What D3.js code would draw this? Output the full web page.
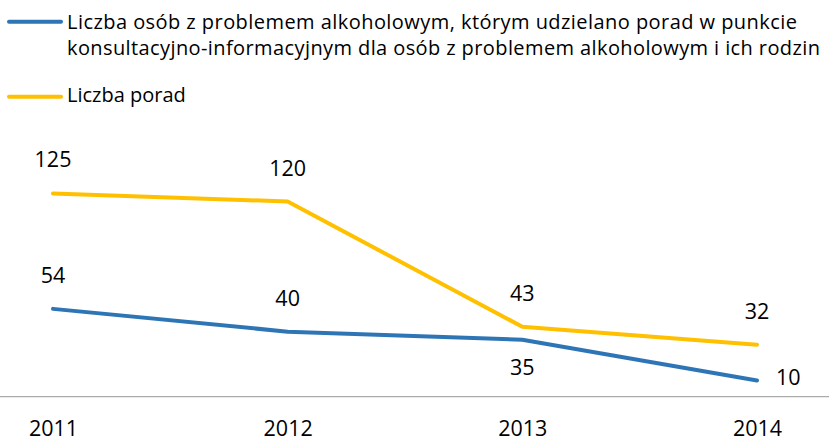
<!DOCTYPE html>
<html>
<head>
<meta charset="utf-8">
<script src="https://cdn.jsdelivr.net/npm/d3@7"></script>
<style>
  html, body { margin: 0; padding: 0; background: #fff; }
  svg { display: block; font-family: "Open Sans", "Noto Sans", sans-serif; }
</style>
</head>
<body>
<svg id="chart" width="829" height="443"></svg>
<script>
// Years on the horizontal axis
const years = ["2011", "2012", "2013", "2014"];
// Persons with an alcohol problem who received advice
const persons = [54, 40, 35, 10];
// Number of advice sessions given
const advice = [125, 120, 43, 32];
// Legend texts
const legendPersons = [
  "Liczba osób z problemem alkoholowym, którym udzielano porad w punkcie",
  "konsultacyjno-informacyjnym dla osób z problemem alkoholowym i ich rodzin"
];
const legendAdvice = "Liczba porad";

const W = 829, H = 443;
const svg = d3.select("#chart");
const FONT = "'Open Sans', 'Noto Sans', sans-serif";

const x = d3.scalePoint().domain(years).range([53, 757]);
const y = d3.scaleLinear().domain([0, 125]).range([396.7, 193.4]);

const series = [
  { name: "advice", values: advice, color: "#FFC000" },
  { name: "persons", values: persons, color: "#2E75B6" }
];

// baseline axis
svg.append("line")
  .attr("x1", 0).attr("x2", W)
  .attr("y1", y(0)).attr("y2", y(0))
  .attr("stroke", "#ABABAB").attr("stroke-width", 1.3);

// year labels
const xAxis = d3.axisBottom(x).tickSize(0).tickPadding(0);
const gx = svg.append("g").attr("transform", `translate(0,${y(0)})`).call(xAxis);
gx.select(".domain").remove();
gx.selectAll("text")
  .attr("y", 39.5).attr("dy", null)
  .style("font-family", FONT)
  .style("font-size", "21.5px").attr("fill", "#000");

const line = d3.line()
  .x((d, i) => x(years[i]))
  .y(d => y(d));

series.forEach(s => {
  svg.append("path")
    .datum(s.values)
    .attr("d", line)
    .attr("fill", "none")
    .attr("stroke", s.color)
    .attr("stroke-width", 4)
    .attr("stroke-linejoin", "round")
    .attr("stroke-linecap", "round");
});

// data labels: placement per point
const labelPos = {
  advice: ["above", "above", "above", "above"],
  persons: ["above", "above", "below", "right"]
};
series.forEach(s => {
  s.values.forEach((v, i) => {
    const pos = labelPos[s.name][i];
    const px = x(years[i]), py = y(v);
    const t = svg.append("text")
      .text(v)
      .attr("font-size", 21.5)
      .attr("fill", "#000");
    if (pos === "above") t.attr("x", px).attr("y", py - 26).attr("text-anchor", "middle");
    else if (pos === "below") t.attr("x", px).attr("y", py + 35.5).attr("text-anchor", "middle");
    else t.attr("x", px + 19).attr("y", py + 4.5).attr("text-anchor", "start");
  });
});

// legend
const lg = svg.append("g");
const legendWidths = [730, 753];
lg.append("line").attr("x1", 9).attr("x2", 61).attr("y1", 21.7).attr("y2", 21.7)
  .attr("stroke", "#2E75B6").attr("stroke-width", 4).attr("stroke-linecap", "round");
legendPersons.forEach((txt, i) => {
  lg.append("text").attr("x", 67).attr("y", 28.5 + i * 26.5)
    .attr("font-size", 20).attr("fill", "#000")
    .attr("textLength", legendWidths[i]).attr("lengthAdjust", "spacing")
    .text(txt);
});
lg.append("line").attr("x1", 9).attr("x2", 61).attr("y1", 96.7).attr("y2", 96.7)
  .attr("stroke", "#FFC000").attr("stroke-width", 4).attr("stroke-linecap", "round");
lg.append("text").attr("x", 67).attr("y", 102)
  .attr("font-size", 20).attr("fill", "#000").text(legendAdvice);
</script>
</body>
</html>
